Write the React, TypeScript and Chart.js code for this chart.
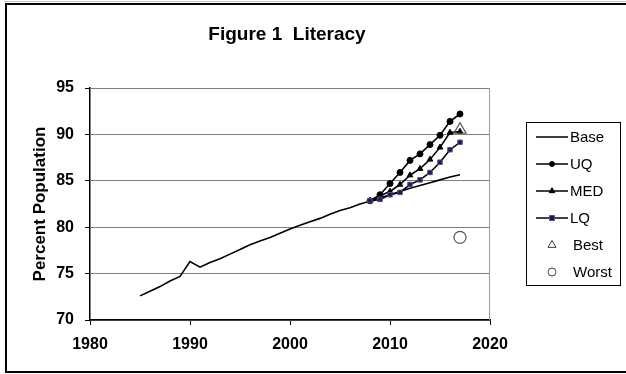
import React, { useEffect, useRef } from "react";
import { Chart, registerables } from "chart.js";

Chart.register(...registerables);

const titleText = "Figure 1  Literacy";
const yAxisTitle = "Percent Population";
const xTickValues = [1980, 1990, 2000, 2010, 2020];
const yTickValues = [70, 75, 80, 85, 90, 95];

const baseYears = [1985, 1986, 1987, 1988, 1989, 1990, 1991, 1992, 1993, 1994, 1995, 1996, 1997, 1998, 1999, 2000, 2001, 2002, 2003, 2004, 2005, 2006, 2007, 2008, 2009, 2010, 2011, 2012, 2013, 2014, 2015, 2016, 2017];
const baseValues = [72.6, 73.1, 73.6, 74.2, 74.7, 76.3, 75.7, 76.2, 76.6, 77.1, 77.6, 78.1, 78.5, 78.9, 79.35, 79.8, 80.2, 80.6, 80.95, 81.4, 81.8, 82.1, 82.5, 82.8, 83.15, 83.5, 83.85, 84.2, 84.5, 84.8, 85.1, 85.4, 85.65];

const projYears = [2008, 2009, 2010, 2011, 2012, 2013, 2014, 2015, 2016, 2017];
const uqValues = [82.84, 83.5, 84.7, 85.9, 87.2, 87.9, 88.9, 89.9, 91.4, 92.2];
const medValues = [82.84, 83.4, 83.85, 84.6, 85.6, 86.3, 87.3, 88.6, 90.2, 90.3];
const lqValues = [82.84, 83.0, 83.5, 83.75, 84.6, 85.1, 85.9, 87.0, 88.35, 89.15];

const bestYear = [2017];
const bestValue = [90.5];
const worstYear = [2017];
const worstValue = [78.9];

const legendLabels = ["Base", "UQ", "MED", "LQ", "Best", "Worst"];

const FONT = "'Liberation Sans', Arial, sans-serif";
const LQ_FILL = "#24184a";
const LQ_BORDER = "#5b4c8c";

function pts(xs: number[], ys: number[]) {
  return xs.map((x, i) => ({ x, y: ys[i] }));
}

function drawMarker(ctx: CanvasRenderingContext2D, kind: string, x: number, y: number, r: number, fill: string | null, stroke: string) {
  ctx.beginPath();
  if (kind === "circle") {
    ctx.arc(x, y, r, 0, Math.PI * 2);
  } else if (kind === "triangle") {
    ctx.moveTo(x, y - r * 1.15);
    ctx.lineTo(x + r, y + r * 0.6);
    ctx.lineTo(x - r, y + r * 0.6);
    ctx.closePath();
  } else if (kind === "rect") {
    ctx.rect(x - r, y - r, r * 2, r * 2);
  }
  if (fill) {
    ctx.fillStyle = fill;
    ctx.fill();
  }
  ctx.lineWidth = 1;
  ctx.strokeStyle = stroke;
  ctx.stroke();
}

const decorPlugin = {
  id: "decor",
  beforeDraw(chart: any) {
    const ctx = chart.ctx as CanvasRenderingContext2D;
    ctx.save();
    ctx.fillStyle = "#ffffff";
    ctx.fillRect(0, 0, chart.width, chart.height);
    ctx.strokeStyle = "#c8c8c8";
    ctx.lineWidth = 1;
    ctx.beginPath();
    ctx.moveTo(4, 1.5);
    ctx.lineTo(626, 1.5);
    ctx.stroke();
    ctx.strokeStyle = "#000000";
    ctx.lineWidth = 2;
    ctx.beginPath();
    ctx.moveTo(626, 4);
    ctx.lineTo(6, 4);
    ctx.lineTo(6, 372);
    ctx.lineTo(626, 372);
    ctx.stroke();
    ctx.restore();
  },
  beforeDatasetsDraw(chart: any) {
    const ctx = chart.ctx as CanvasRenderingContext2D;
    const a = chart.chartArea;
    ctx.save();
    ctx.strokeStyle = "#9a9a9a";
    ctx.lineWidth = 1;
    ctx.beginPath();
    ctx.moveTo(Math.round(a.right) - 0.5, a.top);
    ctx.lineTo(Math.round(a.right) - 0.5, a.bottom);
    ctx.stroke();
    ctx.restore();
  },
  afterDraw(chart: any) {
    const ctx = chart.ctx as CanvasRenderingContext2D;
    ctx.save();
    ctx.fillStyle = "#000000";
    ctx.font = `bold 19px ${FONT}`;
    ctx.textAlign = "center";
    ctx.textBaseline = "alphabetic";
    ctx.fillText(titleText, 287, 40);

    const bx = 526.5, by = 122.5, bw = 94, bh = 163;
    ctx.strokeStyle = "#000000";
    ctx.lineWidth = 1;
    ctx.strokeRect(bx, by, bw, bh);
    const rowY = [137, 164, 191, 218, 245, 272];
    ctx.font = `15px ${FONT}`;
    ctx.textAlign = "left";
    ctx.textBaseline = "middle";
    legendLabels.forEach((lab, i) => {
      const y = rowY[i];
      if (i < 4) {
        ctx.strokeStyle = "#000000";
        ctx.lineWidth = 1.5;
        ctx.beginPath();
        ctx.moveTo(536, y);
        ctx.lineTo(568, y);
        ctx.stroke();
      }
      if (i === 1) drawMarker(ctx, "circle", 552, y, 2.5, "#000", "#000");
      if (i === 2) drawMarker(ctx, "triangle", 552, y, 2.8, "#000", "#000");
      if (i === 3) drawMarker(ctx, "rect", 552, y, 2.5, LQ_FILL, LQ_BORDER);
      if (i === 4) drawMarker(ctx, "triangle", 552, y, 4, null, "#444");
      if (i === 5) drawMarker(ctx, "circle", 552, y, 4, null, "#444");
      ctx.fillStyle = "#000000";
      ctx.fillText(lab, i < 4 ? 570 : 573, y + 1);
    });
    ctx.restore();
  },
};

export default function App() {
  const ref = useRef<HTMLCanvasElement | null>(null);

  useEffect(() => {
    if (!ref.current) return;
    const chart = new Chart(ref.current, {
      type: "line",
      data: {
        datasets: [
          {
            label: "Base",
            data: pts(baseYears, baseValues),
            borderColor: "#000000",
            borderWidth: 1.6,
            pointRadius: 0,
            tension: 0,
            order: 5,
          },
          {
            label: "UQ",
            data: pts(projYears, uqValues),
            borderColor: "#000000",
            borderWidth: 1.6,
            pointStyle: "circle",
            pointRadius: 3,
            pointBackgroundColor: "#000000",
            pointBorderColor: "#000000",
            pointBorderWidth: 1,
            order: 4,
          },
          {
            label: "MED",
            data: pts(projYears, medValues),
            borderColor: "#000000",
            borderWidth: 1.6,
            pointStyle: "triangle",
            pointRadius: 3.3,
            pointBackgroundColor: "#000000",
            pointBorderColor: "#000000",
            pointBorderWidth: 1,
            order: 3,
          },
          {
            label: "LQ",
            data: pts(projYears, lqValues),
            borderColor: "#000000",
            borderWidth: 1.6,
            pointStyle: "rect",
            pointRadius: 3.2,
            pointBackgroundColor: LQ_FILL,
            pointBorderColor: LQ_BORDER,
            pointBorderWidth: 1,
            order: 2,
          },
          {
            label: "Best",
            data: pts(bestYear, bestValue),
            showLine: false,
            pointStyle: "triangle",
            pointRadius: 7,
            pointBackgroundColor: "rgba(255,255,255,0)",
            pointBorderColor: "#555555",
            pointBorderWidth: 1.2,
            order: 1,
          },
          {
            label: "Worst",
            data: pts(worstYear, worstValue),
            showLine: false,
            pointStyle: "circle",
            pointRadius: 6,
            pointBackgroundColor: "rgba(255,255,255,0)",
            pointBorderColor: "#555555",
            pointBorderWidth: 1.2,
            order: 0,
          },
        ],
      },
      options: {
        responsive: false,
        animation: false,
        events: [],
        layout: { padding: { left: 0, top: 88, right: 136, bottom: 0 } },
        plugins: {
          legend: { display: false },
          title: { display: false },
          tooltip: { enabled: false },
        },
        scales: {
          x: {
            type: "linear",
            min: xTickValues[0],
            max: xTickValues[xTickValues.length - 1],
            afterBuildTicks: (scale: any) => {
              scale.ticks = xTickValues.map((v) => ({ value: v }));
            },
            afterFit: (scale: any) => {
              scale.height = 54;
            },
            grid: {
              display: true,
              drawOnChartArea: false,
              drawTicks: true,
              tickLength: 5,
              tickColor: "#000000",
              color: "#000000",
            },
            border: { display: true, color: "#000000", width: 1.5 },
            ticks: {
              color: "#000000",
              font: { family: FONT, size: 16, weight: "bold" },
              padding: 10,
              maxRotation: 0,
              callback: (v: any) => String(v),
            },
          },
          y: {
            type: "linear",
            min: yTickValues[0],
            max: yTickValues[yTickValues.length - 1],
            afterBuildTicks: (scale: any) => {
              scale.ticks = yTickValues.map((v) => ({ value: v }));
            },
            afterFit: (scale: any) => {
              scale.width = 90;
            },
            grid: {
              display: true,
              drawOnChartArea: true,
              drawTicks: true,
              tickLength: 5,
              tickColor: "#000000",
              color: "#808080",
              lineWidth: 1,
            },
            border: { display: true, color: "#000000", width: 1.5 },
            ticks: {
              color: "#000000",
              font: { family: FONT, size: 16, weight: "bold" },
              padding: 11,
              callback: (v: any) => String(v),
            },
            title: {
              display: true,
              text: yAxisTitle,
              color: "#000000",
              font: { family: FONT, size: 17, weight: "bold" },
              padding: { top: 30, bottom: 0 },
            },
          },
        },
      },
      plugins: [decorPlugin],
    } as any);
    return () => chart.destroy();
  }, []);

  return (
    <div style={{ position: "fixed", left: 0, top: 0, width: 626, height: 374, background: "#fff" }}>
      <canvas ref={ref} width={626} height={374} style={{ display: "block", width: 626, height: 374 }} />
    </div>
  );
}
